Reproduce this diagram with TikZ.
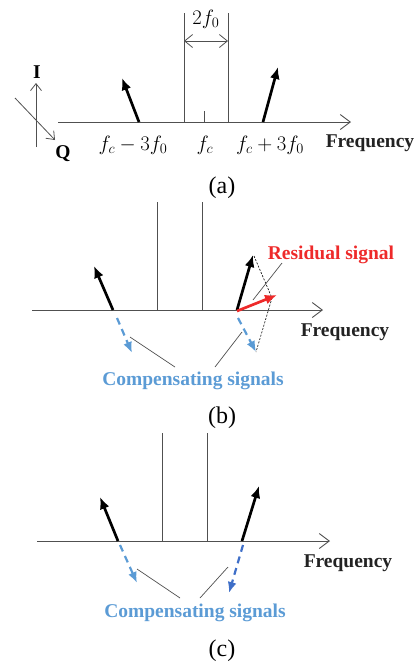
\documentclass[tikz,border=0pt]{standalone}
\usepackage{fontspec}
\setmainfont{LiberationSerif}[Extension=.ttf, UprightFont=*-Regular, BoldFont=*-Bold, ItalicFont=*-Italic, BoldItalicFont=*-BoldItalic]
\usetikzlibrary{arrows.meta}
\definecolor{axisgray}{HTML}{505050}
\definecolor{compblue}{HTML}{5B9BD5}
\definecolor{compdark}{HTML}{3F6FC8}
\definecolor{resred}{HTML}{EE2A2A}
\definecolor{txtdark}{HTML}{222222}
\tikzset{
  axisline/.style={draw=axisgray, line width=0.9pt, -{Straight Barb[length=10pt,width=15pt,line width=0.9pt]}},
  vline/.style={draw=axisgray, line width=0.8pt},
  sig/.style={draw=black, line width=2.7pt, -{Latex[length=12pt,width=10pt]}},
  resid/.style={draw=resred, line width=2.7pt, -{Latex[length=12pt,width=10pt]}},
  comp/.style={draw=compblue, line width=2.2pt, dash pattern=on 7pt off 5pt, -{Latex[length=11pt,width=9pt]}},
  compd/.style={draw=compdark, line width=2.2pt, dash pattern=on 7pt off 5pt, -{Latex[length=11pt,width=9pt]}},
  leader/.style={draw=axisgray, line width=0.7pt},
  guide/.style={draw=black, line width=0.6pt, dash pattern=on 2pt off 1.5pt},
  freq/.style={font=\fontsize{19.5}{22}\selectfont\bfseries, text=txtdark, inner sep=0pt},
  mlab/.style={font=\fontsize{20.5}{24}\selectfont, inner sep=0pt},
  caplab/.style={font=\fontsize{24}{28}\selectfont, inner sep=0pt},
  complab/.style={font=\fontsize{19.5}{22}\selectfont\bfseries, text=compblue, inner sep=0pt},
  reslab/.style={font=\fontsize{19.5}{22}\selectfont\bfseries, text=resred, inner sep=0pt}
}
\begin{document}
\begin{tikzpicture}[x=1pt,y=-1pt]
\useasboundingbox (0,0) rectangle (417,662);
% ---------------- panel (a)
\coordinate (a0) at (58,122); \coordinate (a1) at (351,122);
\draw[axisline] (a0) -- (a1);
\coordinate (av1t) at (184,13); \coordinate (av1b) at (184,122);
\coordinate (av2t) at (228,13); \coordinate (av2b) at (228,122);
\draw[vline] (av1t) -- (av1b);
\draw[vline] (av2t) -- (av2b);
\coordinate (ad1) at (184,41); \coordinate (ad2) at (228,41);
\draw[draw=axisgray, line width=0.8pt, {Straight Barb[length=8pt,width=13pt]}-{Straight Barb[length=8pt,width=13pt]}] (ad1) -- (ad2);
\node[mlab] (twof) at (206,19) {$2f_0$};
\coordinate (atk1) at (204,111); \coordinate (atk2) at (204,122);
\draw[vline] (atk1) -- (atk2);
\coordinate (al0) at (139,122); \coordinate (al1) at (122,78);
\draw[sig] (al0) -- (al1);
\coordinate (ar0) at (263,122); \coordinate (ar1) at (278,67);
\draw[sig] (ar0) -- (ar1);
\coordinate (i0) at (36,147); \coordinate (i1) at (36,83);
\draw[draw=axisgray, line width=0.8pt, -{Straight Barb[length=7pt,width=11pt]}] (i0) -- (i1);
\node[freq, text=black] (ilab) at (37,72) {I};
\coordinate (q0) at (15,98); \coordinate (q1) at (55,140);
\draw[draw=axisgray, line width=0.8pt, -{Straight Barb[length=7pt,width=11pt]}] (q0) -- (q1);
\node[freq, text=black] (qlab) at (63,154) {Q};
\node[mlab] (fm) at (133,145) {$f_c-3f_0$};
\node[mlab] (fc) at (205,145) {$f_c$};
\node[mlab] (fp) at (270,145) {$f_c+3f_0$};
\node[freq] (fra) at (370,143) {Frequency};
\node[caplab] (capa) at (222,188) {(a)};
% ---------------- panel (b)
\coordinate (b0) at (32,310); \coordinate (b1) at (323,310);
\draw[axisline] (b0) -- (b1);
\coordinate (bv1t) at (157,202); \coordinate (bv1b) at (157,310);
\coordinate (bv2t) at (202,202); \coordinate (bv2b) at (202,310);
\draw[vline] (bv1t) -- (bv1b);
\draw[vline] (bv2t) -- (bv2b);
\coordinate (bl0) at (113,310); \coordinate (bl1) at (94,266);
\draw[sig] (bl0) -- (bl1);
\coordinate (br0) at (237,310); \coordinate (br1) at (253,255);
\draw[sig] (br0) -- (br1);
\coordinate (bg0) at (254,256); \coordinate (bg1) at (272,298); \coordinate (bg2) at (256,352);
\draw[guide] (bg0) -- (bg1) -- (bg2);
\coordinate (bres0) at (237,311); \coordinate (bres1) at (277,295);
\draw[resid] (bres0) -- (bres1);
\node[reslab] (reslab) at (331,255) {Residual signal};
\coordinate (brl0) at (282,263); \coordinate (brl1) at (253,300);
\draw[leader] (brl0) -- (brl1);
\coordinate (bc10) at (117,318); \coordinate (bc11) at (132,353);
\draw[comp] (bc10) -- (bc11);
\coordinate (bc20) at (238,318); \coordinate (bc21) at (256,352);
\draw[comp] (bc20) -- (bc21);
\coordinate (bld1) at (130,337); \coordinate (bld1e) at (175,367);
\coordinate (bld2) at (242,332); \coordinate (bld2e) at (215,367);
\draw[leader] (bld1) -- (bld1e);
\draw[leader] (bld2) -- (bld2e);
\node[complab] (compb) at (193,381) {Compensating signals};
\node[freq] (frb) at (345,332) {Frequency};
\node[caplab] (capb) at (222,418) {(b)};
% ---------------- panel (c)
\coordinate (c0) at (37,541); \coordinate (c1) at (330,541);
\draw[axisline] (c0) -- (c1);
\coordinate (cv1t) at (162,433); \coordinate (cv1b) at (162,541);
\coordinate (cv2t) at (207,433); \coordinate (cv2b) at (207,541);
\draw[vline] (cv1t) -- (cv1b);
\draw[vline] (cv2t) -- (cv2b);
\coordinate (cl0) at (118,541); \coordinate (cl1) at (100,497);
\draw[sig] (cl0) -- (cl1);
\coordinate (cr0) at (242,541); \coordinate (cr1) at (259,486);
\draw[sig] (cr0) -- (cr1);
\coordinate (cc10) at (120,545); \coordinate (cc11) at (137,583);
\draw[comp] (cc10) -- (cc11);
\coordinate (cc20) at (243,545); \coordinate (cc21) at (229,593);
\draw[compd] (cc20) -- (cc21);
\coordinate (cld1) at (137,569); \coordinate (cld1e) at (180,598);
\coordinate (cld2) at (228,567); \coordinate (cld2e) at (200,598);
\draw[leader] (cld1) -- (cld1e);
\draw[leader] (cld2) -- (cld2e);
\node[complab] (compc) at (195,613) {Compensating signals};
\node[freq] (frc) at (348,563) {Frequency};
\node[caplab] (capc) at (222,651) {(c)};
\end{tikzpicture}
\end{document}
